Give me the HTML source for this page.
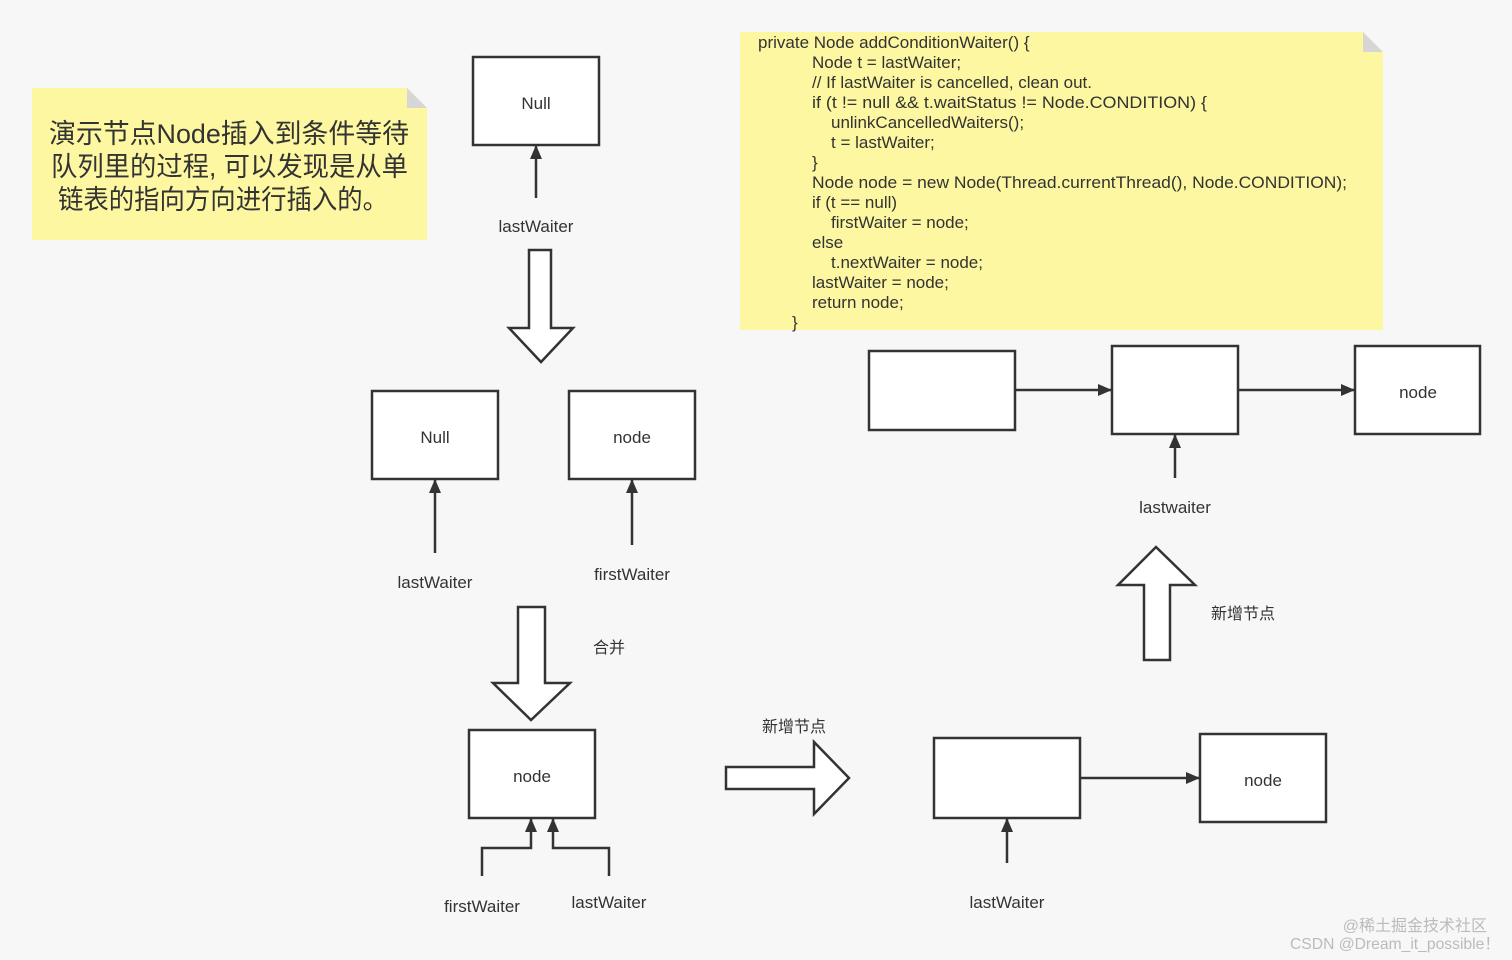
<!DOCTYPE html>
<html><head><meta charset="utf-8"><style>
html,body{margin:0;padding:0;background:#f7f7f7;}
svg{display:block;}
text{font-family:"Liberation Sans","Noto Sans CJK SC",sans-serif;fill:#333;}
</style></head><body>
<svg width="1512" height="960" viewBox="0 0 1512 960" xmlns="http://www.w3.org/2000/svg">
<defs>
<marker id="ah" markerWidth="14" markerHeight="12" refX="13" refY="6" orient="auto" markerUnits="userSpaceOnUse">
<path d="M0,0 L14,6 L0,12 Z" fill="#333"/></marker>
</defs>
<rect width="1512" height="960" fill="#f7f7f7"/>
<!-- left note -->
<path d="M32,88 H407 L427,108 V240 H32 Z" fill="#fcf7a0"/>
<path d="M407,88 L427,108 H407 Z" fill="#d6d6d6"/>
<g font-size="27">
<text x="49" y="143" textLength="360" lengthAdjust="spacingAndGlyphs">演示节点Node插入到条件等待</text>
<text x="51" y="176" textLength="357" lengthAdjust="spacingAndGlyphs">队列里的过程, 可以发现是从单</text>
<text x="58" y="209" textLength="330" lengthAdjust="spacingAndGlyphs">链表的指向方向进行插入的。</text>
</g>
<!-- code note -->
<path d="M740,32 H1363 L1383,52 V330 H740 Z" fill="#fcf7a0"/>
<path d="M1363,32 L1383,52 H1363 Z" fill="#d6d6d6"/>
<g font-size="17">
<text x="758" y="48">private Node addConditionWaiter() {</text>
<text x="812" y="68">Node t = lastWaiter;</text>
<text x="812" y="88">// If lastWaiter is cancelled, clean out.</text>
<text x="812" y="108" textLength="395" lengthAdjust="spacingAndGlyphs">if (t != null &amp;&amp; t.waitStatus != Node.CONDITION) {</text>
<text x="831" y="128">unlinkCancelledWaiters();</text>
<text x="831" y="148">t = lastWaiter;</text>
<text x="812" y="168">}</text>
<text x="812" y="188" textLength="535" lengthAdjust="spacingAndGlyphs">Node node = new Node(Thread.currentThread(), Node.CONDITION);</text>
<text x="812" y="208">if (t == null)</text>
<text x="831" y="228">firstWaiter = node;</text>
<text x="812" y="248">else</text>
<text x="831" y="268">t.nextWaiter = node;</text>
<text x="812" y="288">lastWaiter = node;</text>
<text x="812" y="308">return node;</text>
<text x="792" y="328">}</text>
</g>
<g fill="#fff" stroke="#333" stroke-width="2.5">
<rect x="473" y="57" width="126" height="88"/>
<rect x="372" y="391" width="126" height="88"/>
<rect x="569" y="391" width="126" height="88"/>
<rect x="469" y="730" width="126" height="88"/>
<rect x="934" y="738" width="146" height="80"/>
<rect x="1200" y="734" width="126" height="88"/>
<rect x="869" y="351" width="146" height="79"/>
<rect x="1112" y="346" width="126" height="88"/>
<rect x="1355" y="346" width="125" height="88"/>
</g>
<g fill="none" stroke="#333" stroke-width="2.5" marker-end="url(#ah)">
<path d="M536,198 V146"/>
<path d="M435,553 V480"/>
<path d="M632,545 V480"/>
<path d="M482,876 V848 H531 V819"/>
<path d="M609,876 V848 H553 V819"/>
<path d="M1080,778 H1199"/>
<path d="M1007,863 V819"/>
<path d="M1015,390 H1111"/>
<path d="M1238,390 H1354"/>
<path d="M1175,478 V435"/>
</g>
<!-- hollow arrows -->
<g fill="#fff" stroke="#333" stroke-width="2.5">
<path d="M529,250 H551 V328 H573 L541,362 L509,328 H529 Z"/>
<path d="M518,607 H545 V683 H570 L531,720 L493,683 H518 Z"/>
<path d="M726,767 H814 V742 L849,778 L814,814 V789 H726 Z"/>
<path d="M1144,660 V585 H1118 L1156,547 L1195,585 H1170 V660 Z"/>
</g>
<g font-size="17" text-anchor="middle">
<text x="536" y="109">Null</text>
<text x="536" y="232">lastWaiter</text>
<text x="435" y="443">Null</text>
<text x="632" y="443">node</text>
<text x="435" y="588">lastWaiter</text>
<text x="632" y="580">firstWaiter</text>
<text x="532" y="782">node</text>
<text x="482" y="912">firstWaiter</text>
<text x="609" y="908">lastWaiter</text>
<text x="1263" y="786">node</text>
<text x="1007" y="908">lastWaiter</text>
<text x="1418" y="398">node</text>
<text x="1175" y="513">lastwaiter</text>
</g>
<g font-size="16" text-anchor="middle">
<text x="609" y="653">合并</text>
<text x="794" y="732">新增节点</text>
<text x="1243" y="619">新增节点</text>
</g>
<g font-size="16" text-anchor="end">
<text x="1487" y="931" style="fill:#bbb">@稀土掘金技术社区</text>
<text x="1500" y="949" style="fill:#bbb" textLength="210" lengthAdjust="spacingAndGlyphs">CSDN @Dream_it_possible！</text>
</g>
</svg>
</body></html>
